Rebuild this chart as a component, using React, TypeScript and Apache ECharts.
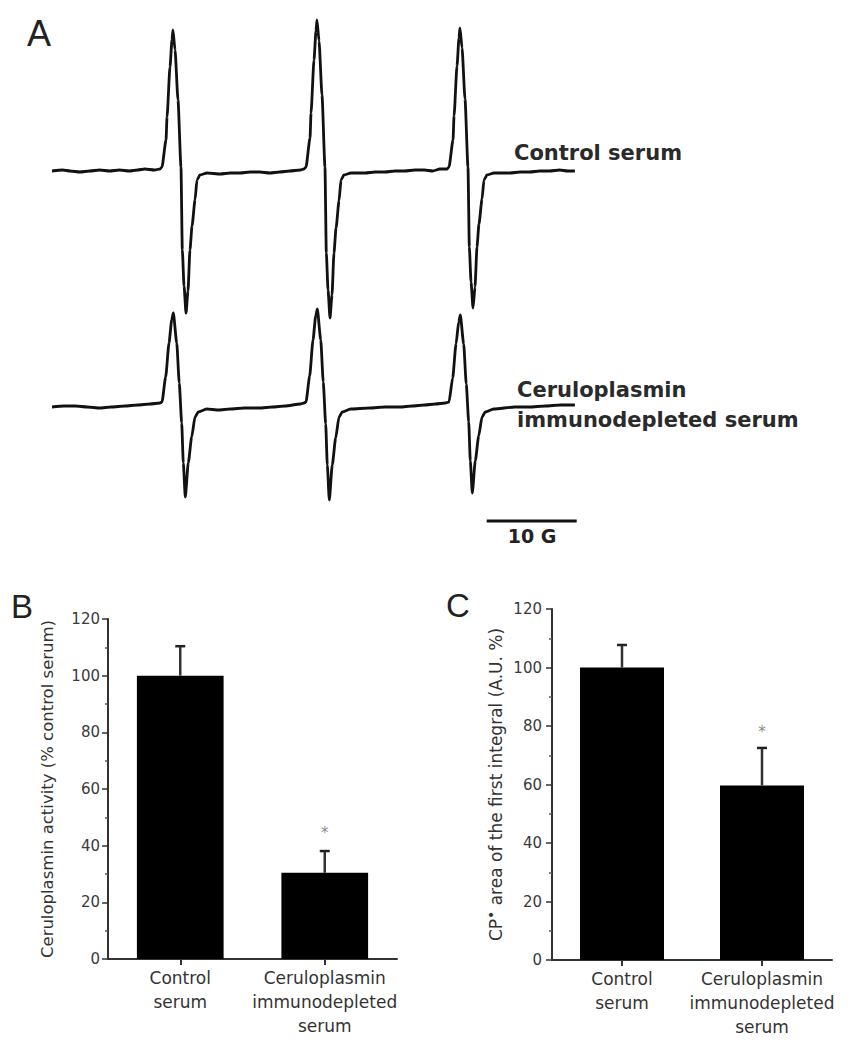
import React, { useEffect, useRef } from "react";
import * as echarts from "echarts";

// Panel A: EPR spectra, x in gauss, y in arbitrary signal units
const controlTrace: number[][] = [
  [0, 0], [1.2, 1], [2.0, 0], [3.1, -1], [4.2, 0], [5.3, 1], [6.4, 0], [7.5, 1], [8.6, 0], [9.5, 1], [10.3, 2], [11.4, 1], [12.0, 2],
  [12.22, 4], [12.67, 31], [12.78, 54], [13.11, 104], [13.33, 131], [13.44, 141], [13.67, 121], [14.0, 71], [14.33, 4], [14.48, -79],
  [14.67, -115], [14.89, -142], [15.11, -120], [15.33, -79], [15.56, -55], [15.89, -29], [16.11, -9], [16.44, -4], [17.22, -2],
  [18.7, -3], [19.8, -2], [20.9, -2], [22.0, -1], [23.1, -1], [24.2, -2], [25.3, -1], [26.4, 0], [27.6, 1], [28.0, 2],
  [28.22, 4], [28.67, 33], [28.78, 58], [29.11, 111], [29.33, 140], [29.44, 151], [29.67, 130], [30.0, 76], [30.33, 4], [30.48, -82],
  [30.67, -119], [30.89, -147], [31.11, -124], [31.33, -82], [31.56, -57], [31.89, -30], [32.11, -9], [32.44, -4], [33.22, -2],
  [34.8, -2], [35.9, -1], [37.0, -1], [38.1, 0], [39.2, 0], [40.3, 1], [41.4, 1], [42.3, 0], [43.1, 2], [43.9, 2],
  [44.11, 4], [44.56, 31], [44.67, 55], [45.0, 105], [45.22, 133], [45.33, 143], [45.56, 123], [45.89, 72], [46.22, 4], [46.37, -76],
  [46.56, -111], [46.78, -137], [47.0, -116], [47.22, -76], [47.44, -53], [47.78, -28], [48.0, -9], [48.33, -4], [49.11, -2],
  [50.9, -2], [52.0, -1], [53.1, -1], [54.2, 0], [55.3, 0], [56.4, 1], [57.3, 0], [58.1, 0],
];

const depletedTrace: number[][] = [
  [0, 0], [1.3, 1], [2.6, 1], [3.9, 0], [5.3, -1], [6.6, 0], [8.1, 1], [9.5, 2], [10.9, 3], [12.0, 4],
  [12.22, 5], [12.63, 30], [13.0, 64], [13.3, 87], [13.48, 94], [13.86, 64], [14.14, 24], [14.41, -16], [14.59, -56], [14.81, -90],
  [15.14, -56], [15.52, -30], [15.89, -10], [16.26, -5], [17.19, -2],
  [18.5, -3], [19.8, -2], [21.4, -1], [23.1, -1], [24.5, 0], [25.9, 1], [27.6, 3], [28.0, 4],
  [28.22, 5], [28.63, 31], [29.0, 67], [29.3, 91], [29.48, 98], [29.86, 67], [30.14, 25], [30.41, -17], [30.59, -58], [30.81, -93],
  [31.14, -58], [31.52, -31], [31.89, -10], [32.26, -5], [33.19, -2],
  [35.3, -1], [37.0, 0], [38.7, 0], [40.0, 1], [41.4, 2], [42.6, 3], [43.7, 4],
  [44.11, 5], [44.52, 29], [44.89, 63], [45.19, 85], [45.37, 92], [45.74, 63], [46.03, 23], [46.3, -15], [46.48, -54], [46.7, -86],
  [47.03, -54], [47.41, -29], [47.78, -10], [48.15, -5], [49.08, -2],
  [51.4, 0], [53.1, 0], [54.8, 1], [56.5, 2], [58.1, 2],
];

const scaleBar: number[][] = [[48.3, -114], [58.3, -114]];

// Panels B and C
const barCategories = ["Control\nserum", "Ceruloplasmin\nimmunodepleted\nserum"];
const activityMean = [100, 30.4];
const activitySd = [10.4, 7.7];
const activityStar = [null, 45.5];
const areaMean = [100, 59.7];
const areaSd = [7.7, 12.8];
const areaStar = [null, 79];

const FONT = "DejaVu Sans";

const errorRender = (params: any, api: any) => {
  const idx = api.value(0);
  const mean = api.value(1);
  const sd = api.value(2);
  const base = api.coord([idx, mean]);
  const top = api.coord([idx, mean + sd]);
  return {
    type: "group",
    children: [
      { type: "line", shape: { x1: base[0], y1: base[1], x2: top[0], y2: top[1] }, style: { stroke: "#333", lineWidth: 2.5 } },
      { type: "line", shape: { x1: top[0] - 5, y1: top[1], x2: top[0] + 5, y2: top[1] }, style: { stroke: "#222", lineWidth: 2.5 } },
    ],
  };
};

const starRender = (params: any, api: any) => {
  const p = api.coord([api.value(0), api.value(1)]);
  return {
    type: "text",
    x: p[0],
    y: p[1] + 3,
    style: { text: "*", fill: "#888", fontSize: 15, fontFamily: FONT, align: "center", verticalAlign: "middle" },
  };
};

function barAxes(gridIndex: number, name: string, nameGap: number, nameSize: number, labelMargin: number, rich?: any) {
  const xAxis = {
    type: "category",
    gridIndex,
    data: barCategories,
    axisLine: { show: true, lineStyle: { color: "#333", width: 2 } },
    axisTick: { show: true, alignWithLabel: true, length: 6, lineStyle: { color: "#333", width: 2 } },
    axisLabel: { fontSize: 17, lineHeight: 24, color: "#333", margin: 7, fontFamily: FONT, interval: 0 },
    splitLine: { show: false },
  };
  const yAxis = {
    type: "value",
    gridIndex,
    min: 0,
    max: 120,
    interval: 20,
    axisLine: { show: true, lineStyle: { color: "#333", width: 2 } },
    axisTick: { show: true, length: 6, lineStyle: { color: "#333", width: 1.5 } },
    minorTick: { show: true, splitNumber: 2, length: 3, lineStyle: { color: "#555", width: 1.5 } },
    axisLabel: { fontSize: 15, color: "#3a3a3a", margin: labelMargin, fontFamily: FONT },
    splitLine: { show: false },
    name,
    nameLocation: "middle",
    nameRotate: 90,
    nameGap,
    nameTextStyle: { fontSize: nameSize, color: "#333", fontFamily: FONT, rich },
  };
  return { xAxis, yAxis };
}

export default function App() {
  const ref = useRef<HTMLDivElement>(null);
  useEffect(() => {
    if (!ref.current) return;
    const chart = echarts.init(ref.current, undefined, { renderer: "svg" });
    const b = barAxes(2, "Ceruloplasmin activity (% control serum)", 52, 16.5, 8);
    const c = barAxes(
      3,
      "{t|CP}{s|•}{t| area of the first integral (A.U. %)}",
      44,
      17,
      10,
      {
        t: { fontSize: 17, color: "#333", fontFamily: FONT, verticalAlign: "middle" },
        s: { fontSize: 14, color: "#333", fontFamily: FONT, padding: [0, 0, 10, 0], verticalAlign: "middle" },
      }
    );
    const traceLine = { color: "#111", width: 2.8 };
    const option: any = {
      animation: false,
      backgroundColor: "#fff",
      grid: [
        { left: 52, top: 11, width: 540, height: 320 },
        { left: 52, top: 247, width: 540, height: 320 },
        { left: 108, top: 619, width: 289, height: 340 },
        { left: 552, top: 609, width: 280, height: 351 },
      ],
      xAxis: [
        { type: "value", gridIndex: 0, min: 0, max: 60, show: false },
        { type: "value", gridIndex: 1, min: 0, max: 60, show: false },
        b.xAxis,
        c.xAxis,
      ],
      yAxis: [
        { type: "value", gridIndex: 0, min: -160, max: 160, show: false },
        { type: "value", gridIndex: 1, min: -160, max: 160, show: false },
        b.yAxis,
        c.yAxis,
      ],
      series: [
        {
          type: "line", xAxisIndex: 0, yAxisIndex: 0, data: controlTrace, showSymbol: false,
          smooth: 0.2, smoothMonotone: "x", lineStyle: traceLine, silent: true,
        },
        {
          type: "line", xAxisIndex: 1, yAxisIndex: 1, data: depletedTrace, showSymbol: false,
          smooth: 0.2, smoothMonotone: "x", lineStyle: traceLine, silent: true,
        },
        {
          type: "line", xAxisIndex: 1, yAxisIndex: 1, data: scaleBar, showSymbol: false,
          lineStyle: { color: "#111", width: 3 }, silent: true,
        },
        {
          type: "bar", xAxisIndex: 2, yAxisIndex: 2, data: activityMean, barWidth: "60%",
          itemStyle: { color: "#000" },
        },
        {
          type: "custom", xAxisIndex: 2, yAxisIndex: 2, renderItem: errorRender, encode: { x: 0, y: 1 },
          data: activityMean.map((m, i) => [i, m, activitySd[i]]), z: 3,
        },
        {
          type: "custom", xAxisIndex: 2, yAxisIndex: 2, renderItem: starRender, encode: { x: 0, y: 1 },
          data: activityStar.map((s, i) => (s == null ? null : [i, s])).filter((d) => d),
        },
        {
          type: "bar", xAxisIndex: 3, yAxisIndex: 3, data: areaMean, barWidth: "60%",
          itemStyle: { color: "#000" },
        },
        {
          type: "custom", xAxisIndex: 3, yAxisIndex: 3, renderItem: errorRender, encode: { x: 0, y: 1 },
          data: areaMean.map((m, i) => [i, m, areaSd[i]]), z: 3,
        },
        {
          type: "custom", xAxisIndex: 3, yAxisIndex: 3, renderItem: starRender, encode: { x: 0, y: 1 },
          data: areaStar.map((s, i) => (s == null ? null : [i, s])).filter((d) => d),
        },
      ],
      graphic: [
        { type: "text", x: 27, y: 33, style: { text: "A", fontSize: 36, fontFamily: "Liberation Sans", fill: "#222", align: "left", verticalAlign: "middle" } },
        { type: "text", x: 11, y: 606, style: { text: "B", fontSize: 33, fontFamily: "Liberation Sans", fill: "#222", align: "left", verticalAlign: "middle" } },
        { type: "text", x: 446, y: 605, style: { text: "C", fontSize: 33, fontFamily: "Liberation Sans", fill: "#222", align: "left", verticalAlign: "middle" } },
        { type: "text", x: 514, y: 153, style: { text: "Control serum", fontSize: 21, fontWeight: "bold", fontFamily: FONT, fill: "#2a2a2a", align: "left", verticalAlign: "middle" } },
        { type: "text", x: 517, y: 390, style: { text: "Ceruloplasmin", fontSize: 21, fontWeight: "bold", fontFamily: FONT, fill: "#2a2a2a", align: "left", verticalAlign: "middle" } },
        { type: "text", x: 517, y: 420, style: { text: "immunodepleted serum", fontSize: 21, fontWeight: "bold", fontFamily: FONT, fill: "#2a2a2a", align: "left", verticalAlign: "middle" } },
        { type: "text", x: 532, y: 536, style: { text: "10 G", fontSize: 19, fontWeight: "bold", fontFamily: FONT, fill: "#222", align: "center", verticalAlign: "middle" } },
      ],
    };
    chart.setOption(option);
    return () => chart.dispose();
  }, []);
  return <div ref={ref} style={{ position: "absolute", left: 0, top: 0, width: 854, height: 1050 }} />;
}
